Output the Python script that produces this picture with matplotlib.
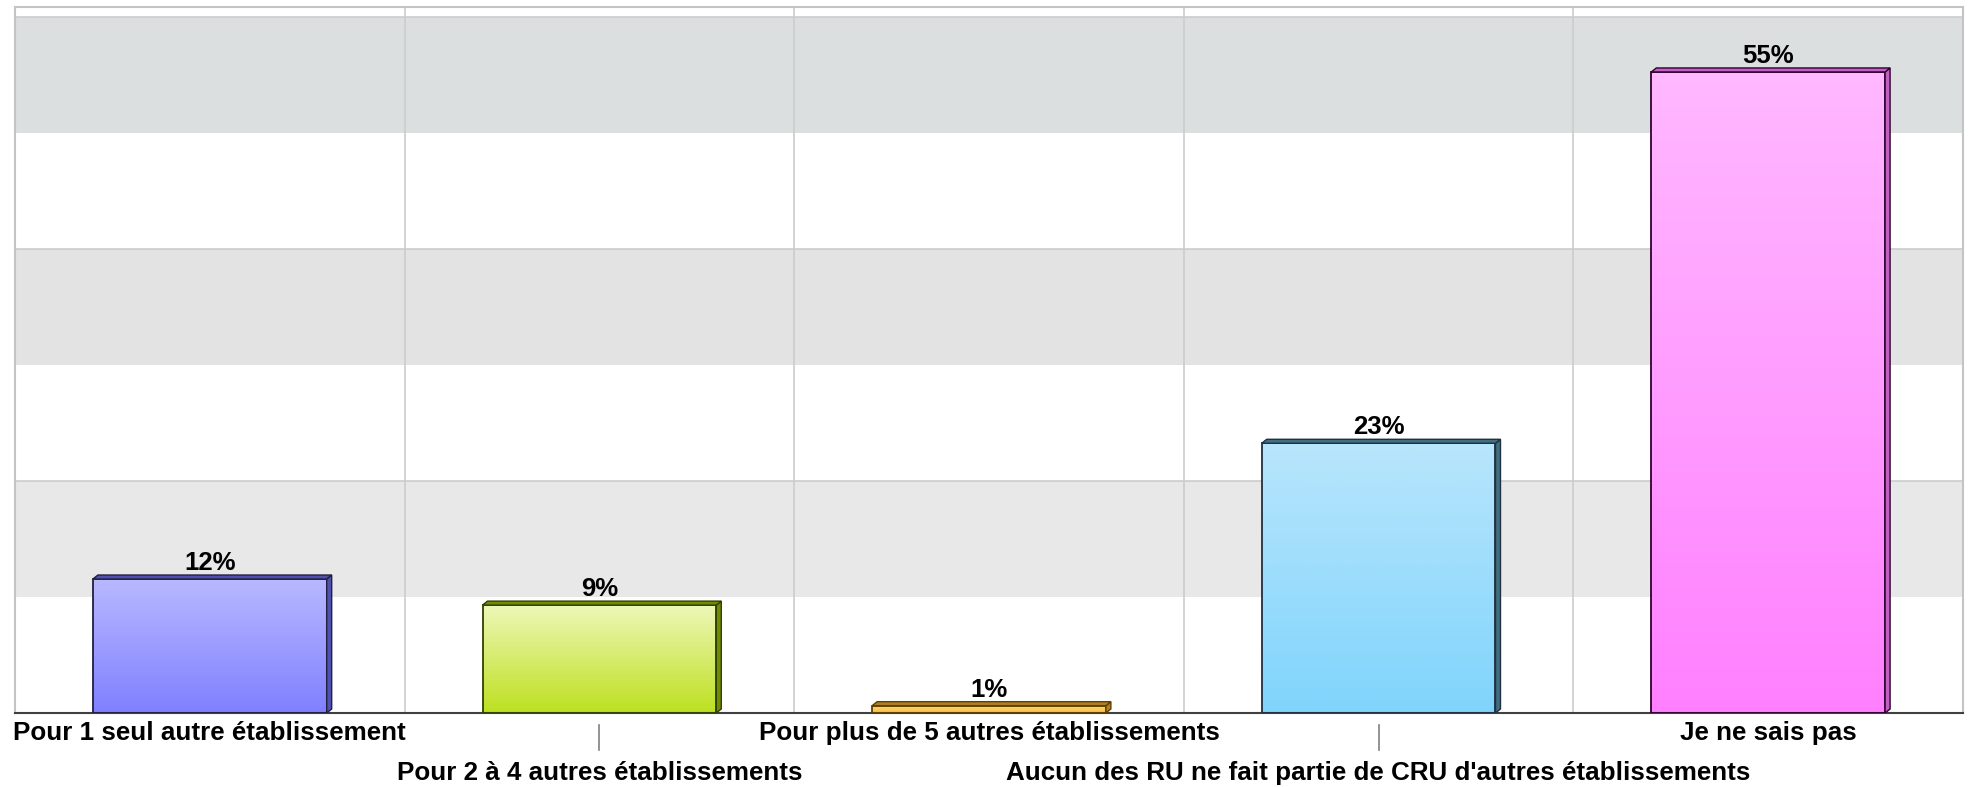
import numpy as np
import matplotlib
matplotlib.use("Agg")
import matplotlib.pyplot as plt
from matplotlib.colors import LinearSegmentedColormap
from matplotlib.patches import Polygon, Rectangle

# data
categories = [
    "Pour 1 seul autre établissement",
    "Pour 2 à 4 autres établissements",
    "Pour plus de 5 autres établissements",
    "Aucun des RU ne fait partie de CRU d'autres établissements",
    "Je ne sais pas",
]
values = [0.1155, 0.093, 0.0063, 0.2325, 0.5526]
value_labels = ["12%", "9%", "1%", "23%", "55%"]

# colours per bar: top of gradient, bottom of gradient, side face, edge
top_colors = ["#b8b8ff", "#eef7b8", "#ffd878", "#b8e6fc", "#ffb8ff"]
bottom_colors = ["#8080ff", "#bde020", "#f8c040", "#80d4fc", "#ff80ff"]
side_colors = ["#5050b0", "#708c00", "#b08020", "#406f80", "#c060c0"]
edge_colors = ["#202040", "#304000", "#604000", "#203040", "#300030"]

plt.rcParams['font.family'] = ['Liberation Sans', 'DejaVu Sans']

fig = plt.figure(figsize=(19.71, 7.87), dpi=100)
ax = fig.add_axes([15 / 1971, 1 - 713 / 787, 1948 / 1971, 706 / 787])

n = len(categories)
ymax = 0.6086
ax.set_xlim(0, n)
ax.set_ylim(0, ymax)

# background bands
band_colors = {1: "#e7e8e7", 3: "#e2e3e2", 5: "#dcdfe0"}
for i, c in band_colors.items():
    ax.axhspan(i * 0.1, (i + 1) * 0.1, color=c, zorder=0, lw=0)
    ax.axhline((i + 1) * 0.1, color="#cccccc", lw=1.2, zorder=0.5)

for k in range(1, n):
    ax.axvline(k, color="#cccccc", lw=1.2, zorder=0.6)

width = 0.6
# depth of the 3d faces, in pixels converted to data units
dx = 5 / 389.6
dy = 4 / 1160

grad = np.linspace(0, 1, 256).reshape(-1, 1)
for i, v in enumerate(values):
    x0 = i + 0.5 - width / 2
    x1 = x0 + width
    cmap = LinearSegmentedColormap.from_list("b%d" % i, [bottom_colors[i], top_colors[i]])
    im = ax.imshow(grad, cmap=cmap, aspect="auto", origin="lower",
                   extent=(x0, x1, 0, v), zorder=2, interpolation="bilinear")
    rect = Rectangle((x0, 0), width, v, facecolor="none",
                     edgecolor=edge_colors[i], lw=1.3, zorder=3)
    ax.add_patch(rect)
    im.set_clip_path(rect)
    side = Polygon([(x1, 0), (x1 + dx, dy), (x1 + dx, v + dy), (x1, v)],
                   closed=True, facecolor=side_colors[i], edgecolor=edge_colors[i],
                   lw=1.0, zorder=3)
    topf = Polygon([(x0, v), (x0 + dx, v + dy), (x1 + dx, v + dy), (x1, v)],
                   closed=True, facecolor=side_colors[i], edgecolor=edge_colors[i],
                   lw=1.0, zorder=3)
    ax.add_patch(side)
    ax.add_patch(topf)
    ax.annotate(value_labels[i], xy=(i + 0.5, v + dy), xytext=(0, 0),
                textcoords="offset points", ha="center", va="bottom",
                fontsize=18.5, fontweight="bold", color="#000000", zorder=4)

# staggered category labels
trans = ax.get_xaxis_transform()
for i, cat in enumerate(categories):
    if i % 2 == 0:
        ax.text(i + 0.5, -0.029, cat, transform=trans, ha="center", va="center",
                fontsize=18.7, fontweight="bold", clip_on=False)
    else:
        ax.text(i + 0.5, -0.085, cat, transform=trans, ha="center", va="center",
                fontsize=18.7, fontweight="bold", clip_on=False)
        ax.plot([i + 0.5, i + 0.5], [-0.017, -0.052], transform=trans,
                color="#808080", lw=1.2, clip_on=False)

ax.set_xticks([])
ax.set_yticks([])
for s in ["left", "top", "right"]:
    ax.spines[s].set_color("#c4c4c4")
    ax.spines[s].set_linewidth(1.5)
ax.spines["bottom"].set_color("#404040")
ax.spines["bottom"].set_linewidth(1.5)

fig.savefig("out.png", dpi=100)
